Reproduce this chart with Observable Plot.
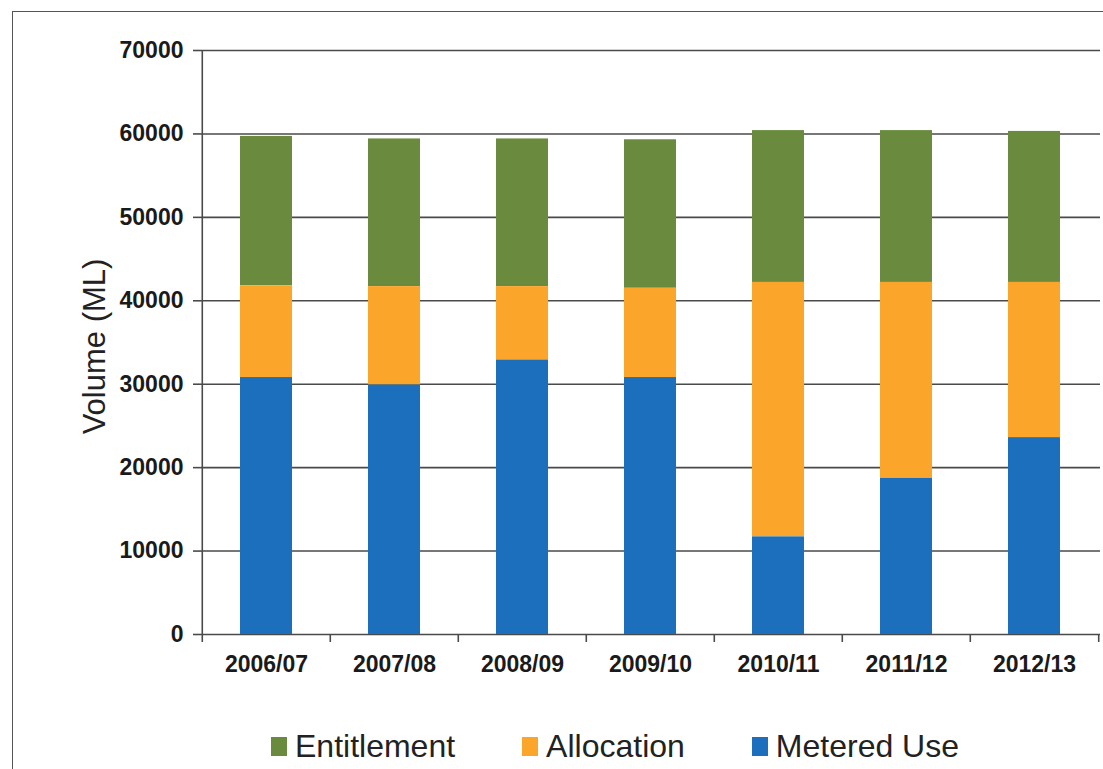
<!DOCTYPE html>
<html>
<head>
<meta charset="utf-8">
<script src="https://cdn.jsdelivr.net/npm/d3@7"></script>
<script src="https://cdn.jsdelivr.net/npm/@observablehq/plot@0.6"></script>
<style>
  body { margin: 0; background: #fff; font-family: "Liberation Sans", Arial, sans-serif; }
  #wrap { position: relative; width: 1103px; height: 769px; overflow: hidden; background: #fff; }
  #frame { position: absolute; left: 12px; top: 11px; width: 1300px; height: 900px; border: 1.5px solid #555; box-sizing: border-box; }
  #chart { position: absolute; left: 0; top: 0; }
  #legend { position: absolute; left: 271px; top: 728px; display: flex; gap: 67px; align-items: center; }
  .item { display: flex; align-items: center; gap: 8px; font-size: 32px; color: #222; }
  .key { width: 16px; height: 19px; display: inline-block; }
</style>
</head>
<body>
<div id="wrap">
  <div id="frame"></div>
  <div id="chart"></div>
  <div id="legend"></div>
</div>
<script>
// Water volumes per water year (ML)
const years = ["2006/07", "2007/08", "2008/09", "2009/10", "2010/11", "2011/12", "2012/13"];
const entitlement = [59700, 59400, 59400, 59300, 60400, 60400, 60300];
const allocation = [41800, 41700, 41700, 41500, 42200, 42200, 42200];
const meteredUse = [30800, 29900, 32900, 30800, 11700, 18700, 23600];

const seriesNames = ["Entitlement", "Allocation", "Metered Use"];
const seriesColors = ["#6a8b3e", "#fba52a", "#1b6fbd"];
const yTicks = [0, 10000, 20000, 30000, 40000, 50000, 60000, 70000];

const rows = years.map((year, i) => ({
  year,
  entitlement: entitlement[i],
  allocation: allocation[i],
  metered: meteredUse[i]
}));

const width = 1103, height = 700;
const marginLeft = 201, marginRight = 3, marginTop = 50, marginBottom = 66;
const step = (width - marginLeft - marginRight) / years.length;
const grid = "#4a4a4a";
const axisFont = {fontSize: 23, fontWeight: "bold", fill: "#1a1a1a"};

const chart = Plot.plot({
  width, height, marginLeft, marginRight, marginTop, marginBottom,
  style: {fontFamily: "'Liberation Sans', Arial, sans-serif", background: "transparent"},
  x: {domain: years, paddingInner: 0.59, paddingOuter: 0.295, axis: null},
  y: {domain: [0, 70000], axis: null},
  marks: [
    // horizontal gridlines
    Plot.ruleY(yTicks, {stroke: grid, strokeWidth: 1.6}),
    // vertical value axis line
    Plot.ruleX([years[0]], {dx: -step / 2, y1: 0, y2: 70000, stroke: grid, strokeWidth: 1.6}),
    // metered use at the bottom, allocation above it, entitlement on top
    Plot.barY(rows, {x: "year", y1: "allocation", y2: "entitlement", fill: seriesColors[0]}),
    Plot.barY(rows, {x: "year", y1: "metered", y2: "allocation", fill: seriesColors[1]}),
    Plot.barY(rows, {x: "year", y1: 0, y2: "metered", fill: seriesColors[2]}),
    // value axis ticks and labels
    Plot.axisY({ticks: yTicks, tickSize: 8, tickPadding: 10, tickFormat: d => String(d), label: null,
      stroke: grid, strokeWidth: 1.6, ...axisFont}),
    // category separators on the bottom axis
    Plot.axisX({ticks: years, tickSize: 8, dx: -step / 2, tickFormat: () => "", label: null, stroke: grid, strokeWidth: 1.6}),
    Plot.axisX({ticks: [years[years.length - 1]], tickSize: 8, dx: step / 2, tickFormat: () => "", label: null, stroke: grid, strokeWidth: 1.6}),
    // category labels
    Plot.axisX({ticks: years, tickSize: 0, tickPadding: 21, label: null, ...axisFont}),
    // axis title
    Plot.text(["Volume (ML)"], {frameAnchor: "left", dx: -106, dy: 4, rotate: -90, textAnchor: "middle", fontSize: 31, fill: "#222"})
  ]
});
document.getElementById("chart").append(chart);

// legend
const legend = document.getElementById("legend");
seriesNames.forEach((name, i) => {
  const item = document.createElement("div");
  item.className = "item";
  const key = document.createElement("span");
  key.className = "key";
  key.style.background = seriesColors[i];
  const label = document.createElement("span");
  label.textContent = name;
  item.append(key, label);
  legend.append(item);
});
</script>
</body>
</html>
